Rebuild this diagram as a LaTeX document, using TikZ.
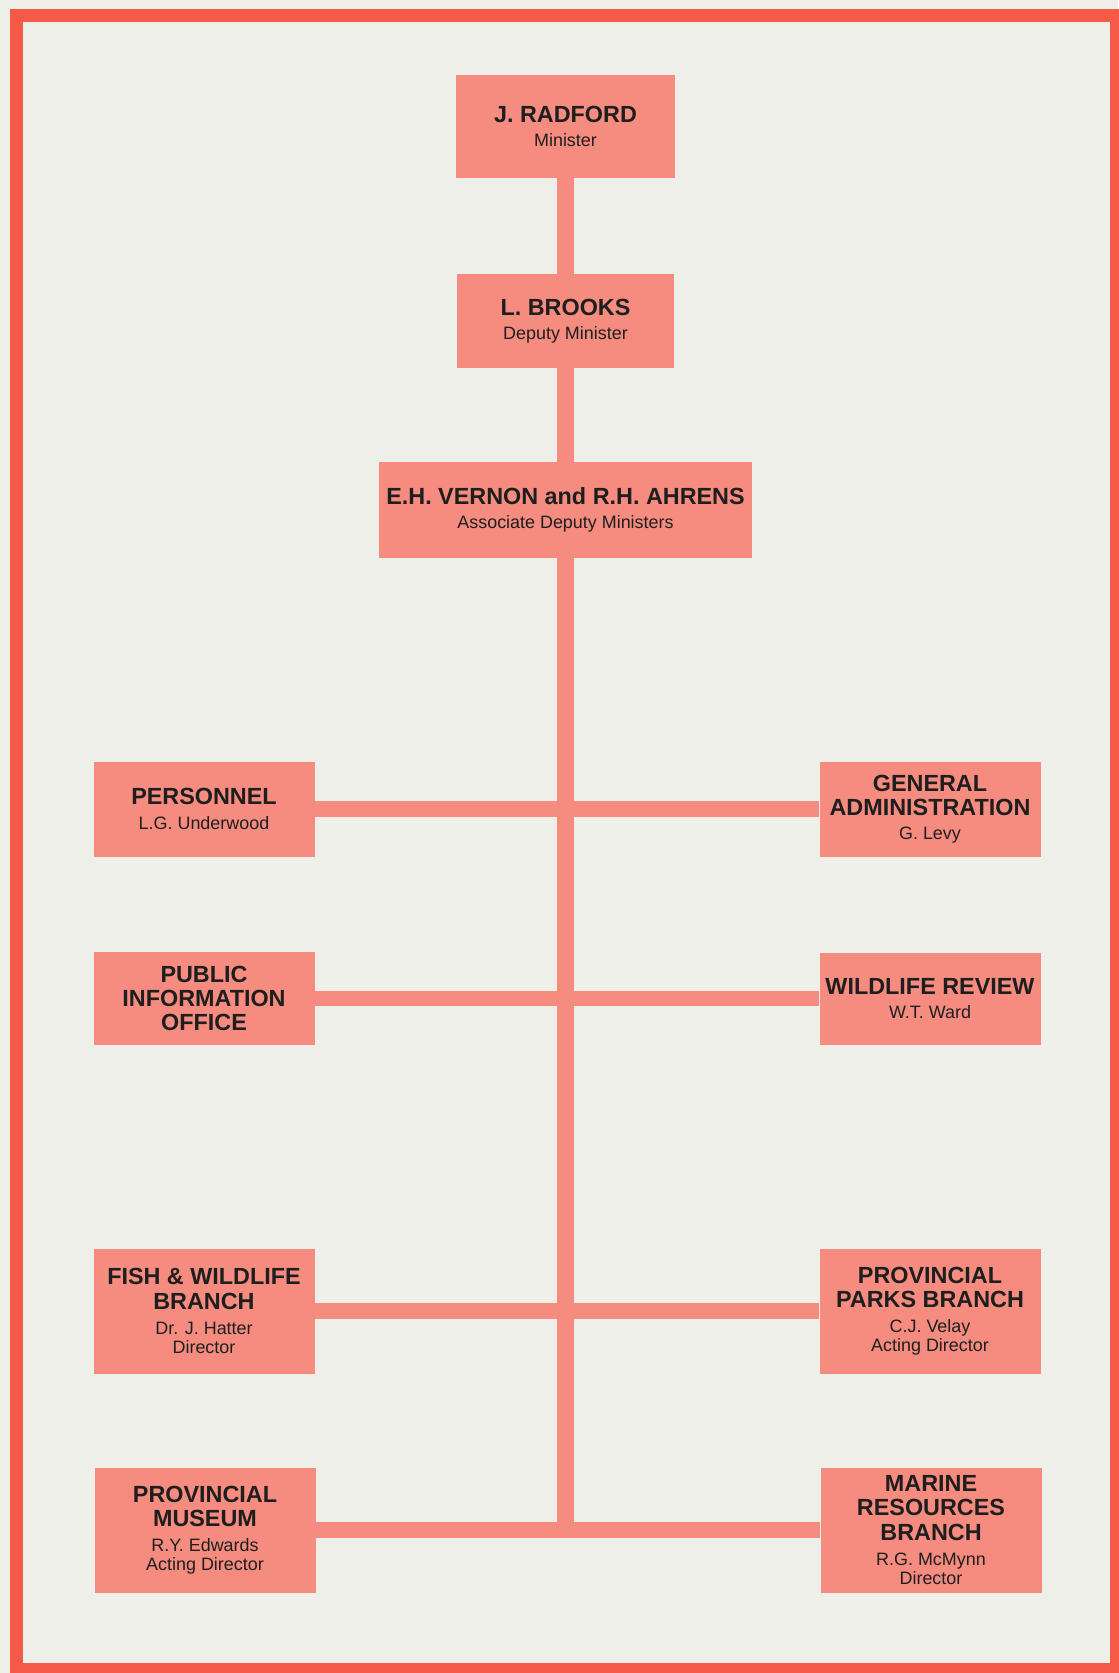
\documentclass[tikz,border=0pt]{standalone}
\usepackage{fontspec}
\setmainfont{Liberation Sans}
\usepackage{tikz}
\usetikzlibrary{shapes,arrows}

\definecolor{pagebg}{HTML}{EFEFEA}
\definecolor{framered}{HTML}{F55A48}
\definecolor{boxpink}{HTML}{F58C7F}
\definecolor{inkgray}{HTML}{1E1E1E}

\newcommand{\hd}[1]{{\fontsize{13.3}{14}\selectfont\bfseries #1}}

\begin{document}
\begin{tikzpicture}
    % Define block styles
    \tikzstyle{office} = [rectangle, minimum width=4.42cm, minimum height=1.9cm, inner sep=0pt, text centered, align=center, fill=boxpink, text=inkgray, font=\fontsize{10.2}{10.8}\selectfont]
    \tikzstyle{branch} = [office, minimum height=2.5cm]
    \tikzstyle{spine} = [draw=boxpink, line width=0.34cm]
    \tikzstyle{rung} = [draw=boxpink, line width=0.31cm]

    % Page and frame
    \useasboundingbox (0,0) rectangle (22.36,-33.46);
    \fill [pagebg] (0,0) rectangle (22.36,-33.46);
    \draw [framered, line width=0.26cm] (0.32,-0.32) rectangle (22.32,-33.38);

    % Draw nodes
    \node (radford) [office, minimum width=4.38cm, minimum height=2.06cm] at (11.31,-2.53) {\hd{J. RADFORD}\\[3pt]Minister};
    \node (brooks) [office, minimum width=4.34cm, minimum height=1.88cm] at (11.31,-6.42) {\hd{L. BROOKS}\\[3pt]Deputy Minister};
    \node (vernon) [office, minimum width=7.46cm, minimum height=1.92cm] at (11.31,-10.2) {\hd{E.H. VERNON and R.H. AHRENS}\\[3pt]Associate Deputy Ministers};
    \node (personnel) [office] at (4.08,-16.18) {\hd{PERSONNEL}\\[3pt]L.G. Underwood};
    \node (genadmin) [office] at (18.6,-16.18) {\hd{GENERAL}\\[3pt]\hd{ADMINISTRATION}\\[3pt]G. Levy};
    \node (pubinfo) [office, minimum height=1.86cm] at (4.08,-19.97) {\hd{PUBLIC}\\[3pt]\hd{INFORMATION}\\[3pt]\hd{OFFICE}};
    \node (wildrev) [office, minimum height=1.84cm] at (18.6,-19.97) {\hd{WILDLIFE REVIEW}\\[3pt]W.T. Ward};
    \node (fishwild) [branch] at (4.08,-26.22) {\hd{FISH \& WILDLIFE}\\[3pt]\hd{BRANCH}\\[3.5pt]Dr. J. Hatter\\Director};
    \node (parks) [branch] at (18.6,-26.22) {\hd{PROVINCIAL}\\[3pt]\hd{PARKS BRANCH}\\[3.5pt]C.J. Velay\\Acting Director};
    \node (museum) [branch] at (4.1,-30.6) {\hd{PROVINCIAL}\\[3pt]\hd{MUSEUM}\\[3.5pt]R.Y. Edwards\\Acting Director};
    \node (marine) [branch] at (18.62,-30.6) {\hd{MARINE}\\[3pt]\hd{RESOURCES}\\[3pt]\hd{BRANCH}\\[3.5pt]R.G. McMynn\\Director};
    \coordinate (foot) at (11.31,-30.6);

    % Draw edges
    \draw [spine] (radford) -- (brooks);
    \draw [spine] (brooks) -- (vernon);
    \draw [spine] (vernon) -- (foot);
    \draw [rung] (personnel) -- (genadmin);
    \draw [rung] (pubinfo) -- (wildrev);
    \draw [rung] (fishwild) -- (parks);
    \draw [rung] (museum) -- (marine);

\end{tikzpicture}
\end{document}
